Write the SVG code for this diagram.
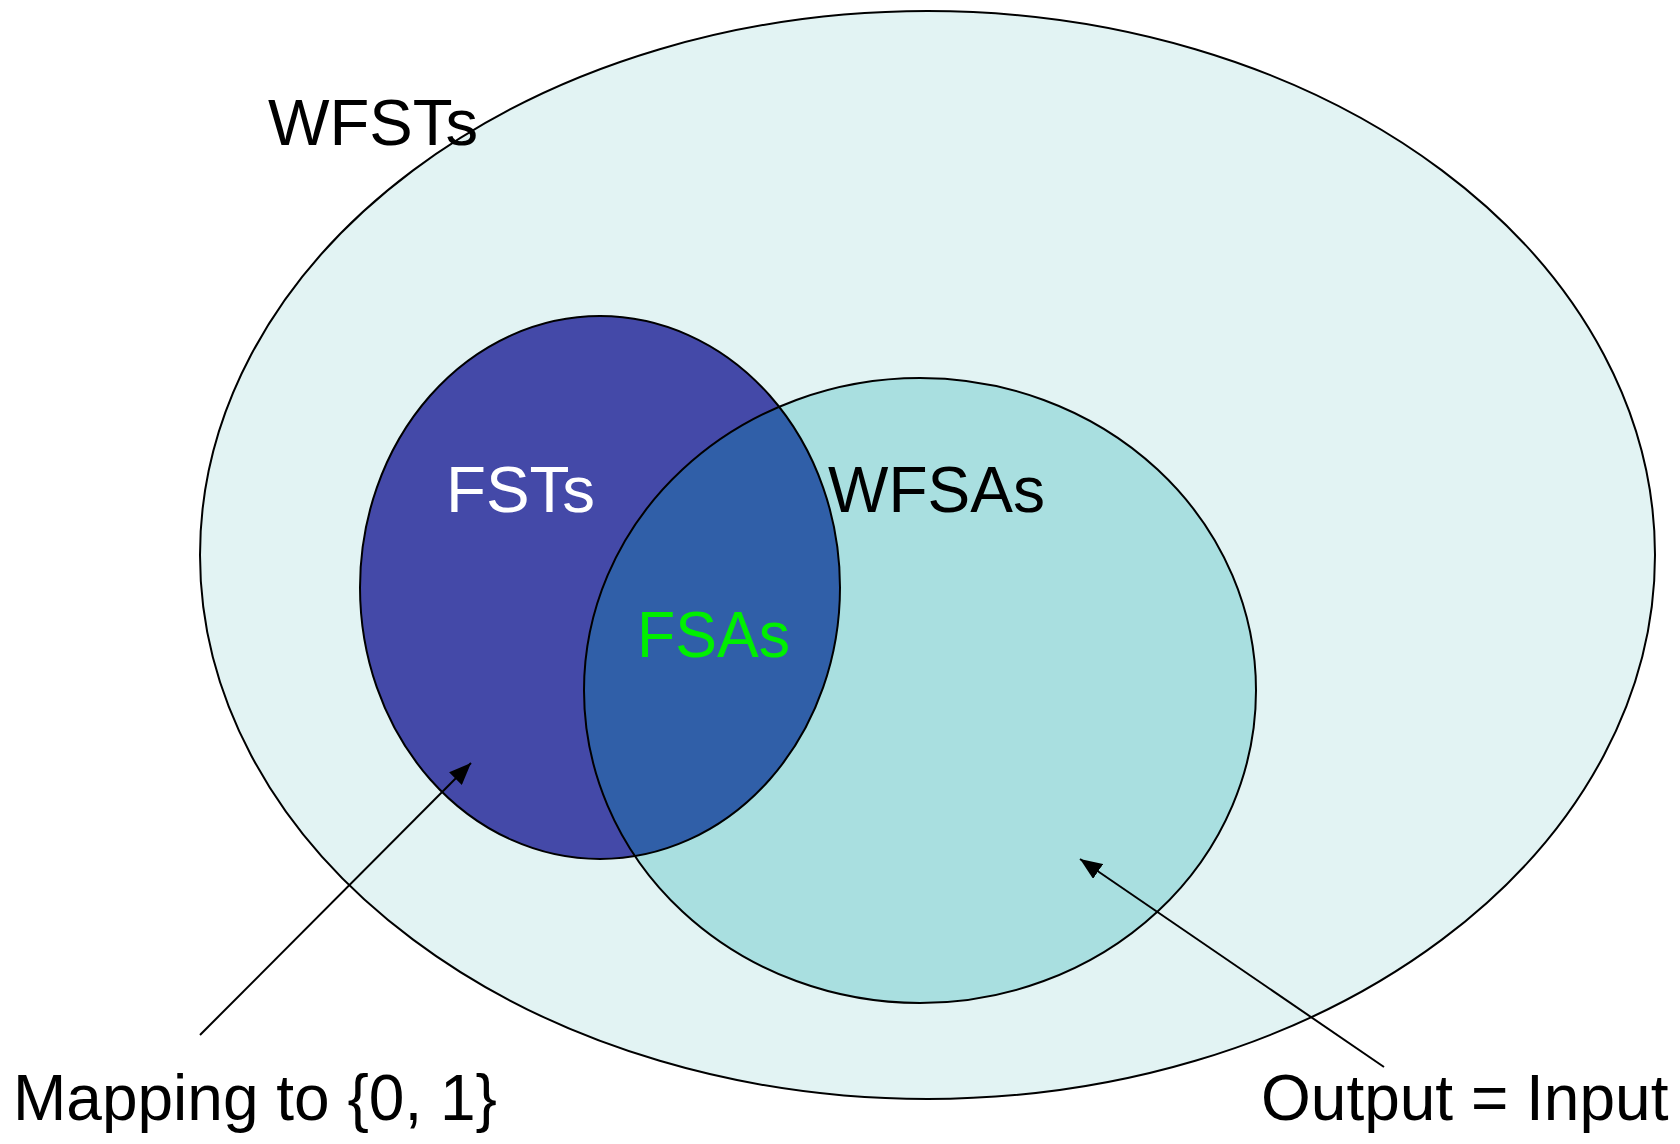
<svg xmlns="http://www.w3.org/2000/svg" width="1680" height="1144" viewBox="0 0 1680 1144">
  <style>
    .outline { fill: none; stroke: #000; stroke-width: 2; }
    .label { font-family: "Liberation Sans", Arial, sans-serif; font-size: 64px; }
    .pointer { fill: none; stroke: #000; stroke-width: 2; marker-end: url(#head); }
  </style>
  <defs>
    <marker id="head" viewBox="0 0 22 18" refX="22" refY="9" markerWidth="22" markerHeight="18" markerUnits="userSpaceOnUse" orient="auto">
      <path d="M0,0 L22,9 L0,18 Z" fill="#000"/>
    </marker>
    <clipPath id="fstClip">
      <ellipse cx="600" cy="587.5" rx="240" ry="271.5"/>
    </clipPath>
  </defs>
  <rect width="1680" height="1144" fill="#fff"/>

  <!-- outer set: weighted transducers -->
  <g id="wfsts">
    <ellipse cx="927.5" cy="555" rx="727.5" ry="544" class="outline" style="fill:#E2F3F3"/>
    <text class="label" x="268" y="145" fill="#000" textLength="210" lengthAdjust="spacingAndGlyphs">WFSTs</text>
  </g>

  <!-- unweighted transducers -->
  <g id="fsts">
    <ellipse cx="600" cy="587.5" rx="240" ry="271.5" style="fill:#4449A8; stroke:none"/>
  </g>

  <!-- weighted acceptors -->
  <g id="wfsas">
    <ellipse cx="920" cy="690.5" rx="336" ry="312.5" style="fill:#A9DFE0; stroke:none"/>
    <text class="label" x="828" y="512" fill="#000">WFSAs</text>
  </g>

  <!-- intersection: unweighted acceptors -->
  <g id="fsas">
    <ellipse cx="920" cy="690.5" rx="336" ry="312.5" clip-path="url(#fstClip)" style="fill:#305FA8; stroke:none"/>
    <ellipse cx="600" cy="587.5" rx="240" ry="271.5" class="outline"/>
    <ellipse cx="920" cy="690.5" rx="336" ry="312.5" class="outline"/>
    <text class="label" x="446" y="512" fill="#fff" textLength="149" lengthAdjust="spacingAndGlyphs">FSTs</text>
    <text class="label" x="637" y="657" fill="#00F000" textLength="153" lengthAdjust="spacingAndGlyphs">FSAs</text>
  </g>

  <g id="connectors">
    <line class="pointer" x1="200" y1="1035" x2="471" y2="763"/>
    <line class="pointer" x1="1384" y1="1067" x2="1080" y2="859"/>
  </g>

  <g id="annotations">
    <text class="label" x="13" y="1120" fill="#000">Mapping to {0, 1}</text>
    <text class="label" x="1261" y="1120" fill="#000">Output = Input</text>
  </g>
</svg>
